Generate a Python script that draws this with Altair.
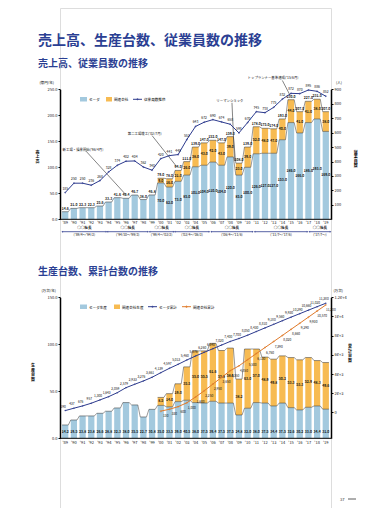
import altair as alt
import pandas as pd

# ---------------- data ----------------
years = ["'89", "'90", "'91", "'92", "'93", "'94", "'95", "'96", "'97", "'98", "'99",
         "'00", "'01", "'02", "'03", "'04", "'05", "'06", "'07", "'08", "'09",
         "'10", "'11", "'12", "'13", "'14", "'15", "'16", "'17", "'18", "'19"]

# sales (stacked): main company + group companies
sales_main = [14.6, 21.0, 22.3, 22.3, 25.6, 33.3, 41.6, 40.4, 46.7, 38.0, 46.8,
              70.0, 62.0, 73.0, 85.0, 101.0, 104.0, 110.0, 104.0, 120.0, 85.0,
              100.0, 126.0, 127.0, 127.0, 153.0, 186.0, 166.0, 186.0, 193.0, 169.0]
sales_group = [0, 0, 0, 0, 0, 0, 0, 0, 0, 0, 0,
               9.0, 16.0, 21.0, 26.0, 38.0, 43.0, 42.0, 43.0, 39.0, 23.0,
               39.0, 52.0, 48.0, 47.0, 40.0, 44.0, 41.0, 41.0, 38.0, 38.0]
employees = [185, 250, 250, 236, 268, 328, 374, 402, 404, 362, 340,
             420, 441, 448, 552, 643, 672, 690, 674, 658, 598,
             670, 745, 738, 775, 832, 872, 870, 895, 886, 852]

# production (stacked) and cumulative production
prod_main = [14.2, 19.5, 23.8, 23.8, 26.6, 28.8, 32.3, 38.0, 35.5, 22.7, 30.8,
             35.0, 33.5, 39.0, 40.5, 38.0, 37.5, 39.4, 37.5, 37.5, 24.8,
             32.0, 38.0, 37.5, 34.4, 37.5, 32.6, 30.2, 33.0, 34.4, 31.0]
prod_group = [0, 0, 0, 0, 0, 0, 0, 0, 0, 0, 0,
              8.5, 14.0, 19.0, 35.5, 55.0, 55.5, 61.6, 55.9, 58.5, 38.2,
              63.0, 57.0, 48.9, 49.8, 50.2, 53.3, 53.3, 52.9, 48.3, 49.6]
cum_main = [190, 437, 676, 957, 1300, 1643, 2059, 2579, 2933, 3276, 3661,
            4139, 4597, 5013, 5460, 5876, 6260, 6640, 7020, 7400, 7700,
            8050, 8430, 8810, 9180, 9560, 9930, 10290, 10660, 11020, 11380]
cum_group = [None] * 11 + [130, 330, 600, 1000, 1600, 2250, 2950, 3650, 4350, 4850,
                           5500, 6130, 6760, 7390, 8020, 8660, 9290, 9930, 10570, 11200]

era_names = ["○○社長", "○○社長", "○○社長", "○○社長", "○○社長", "○○社長", "○○社長"]
era_terms = ["('89/4〜'94/3)", "('94/10〜'99/3)", "('99/4〜'02/3)", "('02/4〜'06/3)",
             "('06/4〜'11/6)", "('11/7〜'17/6)", "('17/7〜)"]
era_from = [-0.35, 4.85, 9.7, 12.6, 16.8, 21.8, 28.1]
era_to = [4.75, 9.55, 12.5, 16.6, 21.6, 27.9, 30.55]

ann_text = ["新工場・操業開始('96/4月)", "第二工場竣工('02/7月)", "リーマンショック", "トップランナー基準達成('15/6月)"]
ann_tx = [-0.3, 7.2, 17.4, 21.0]
ann_ty = [134, 165, 228, 271]
ann_x1 = [2.4, 10.0, 19.2, 25.0]
ann_y1 = [131, 161, 224, 267]
ann_x2 = [7.0, 12.8, 19.5, 25.9]
ann_y2 = [47, 102, 112, 238]

# ---------------- style / layout ----------------
BLUE = "#a3c9de"
ORANGE = "#f7bb52"
NAVY = "#2d3b8e"
RUST = "#e07a2a"
TITLE = "#2b3f93"
FONT = "Noto Sans CJK JP"
W = 271          # plot width (page x 60..331)
H = 500          # whole drawing height (page y 8..508)
T_RANGE = [211.3, 81.3]    # top panel vertical extent
B_RANGE = [430.3, 289.3]   # bottom panel vertical extent
HALF = 0.36
x_scale = alt.Scale(domain=[-0.6, 30.6], nice=False, zero=False)


def X(field):
    return alt.X(field, type="quantitative", scale=x_scale, axis=None)


def deco(txt, x, y, size, color="black", weight="normal", align="left"):
    return alt.Chart(pd.DataFrame({"t": [txt]})).mark_text(
        fontSize=size, color=color, fontWeight=weight, align=align, baseline="alphabetic", font=FONT
    ).encode(x=alt.value(x), y=alt.value(y), text="t:N")


def vdeco(txt, x, y, size):
    return alt.Chart(pd.DataFrame({"t": ["\n".join(txt)]})).mark_text(
        fontSize=size, color="black", fontWeight="bold", align="center", baseline="top",
        lineBreak="\n", lineHeight=4.5, font=FONT
    ).encode(x=alt.value(x), y=alt.value(y), text="t:N")


def swatch(x1, x2, y1, y2, color):
    return alt.Chart(pd.DataFrame({"t": [0]})).mark_rect(color=color).encode(
        x=alt.value(x1), x2=alt.value(x2), y=alt.value(y1), y2=alt.value(y2))


def linekey(x1, x2, y, color, shape):
    r = alt.Chart(pd.DataFrame({"t": [0]})).mark_rule(color=color, strokeWidth=1).encode(
        x=alt.value(x1), x2=alt.value(x2), y=alt.value(y))
    p = alt.Chart(pd.DataFrame({"t": [0]})).mark_point(color=color, shape=shape, size=6, filled=True).encode(
        x=alt.value((x1 + x2) / 2), y=alt.value(y))
    return r + p


def yaxis(orient, values, fmt, title=None):
    kw = dict(orient=orient, values=values, format=fmt, labelFontSize=4, tickSize=2,
              domainWidth=1.5, domainColor="black", tickColor="black", grid=False,
              labelPadding=1, labelColor="#222", labelOverlap=False)
    if title:
        kw.update(title=list(title), titleAngle=0, titleFontSize=4, titleFontWeight="bold",
                  titlePadding=1, titleLineHeight=4.5)
    else:
        kw.update(title="")
    return alt.Axis(**kw)


def year_row(df, y):
    return alt.Chart(df).mark_text(fontSize=4, font=FONT, color="#222", baseline="middle").encode(
        x=X("i:Q"), y=alt.value(y), text="year:N")


def stacked_layers(df, yscale, yax, label_total, base_y):
    base = alt.Chart(df).transform_calculate(x0=f"datum.i - {HALF}", x1=f"datum.i + {HALF}",
                                             mid_main="datum.main / 2",
                                             mid_grp="(datum.main + datum.total) / 2")
    Y = lambda f: alt.Y(f, type="quantitative", scale=yscale, axis=yax)
    blue = base.mark_bar(color=BLUE).encode(x=X("x0:Q"), x2="x1:Q", y=Y("main"), y2=alt.datum(0))
    orange = base.transform_filter("datum.grp > 0").mark_bar(color=ORANGE).encode(
        x=X("x0:Q"), x2="x1:Q", y=Y("main"), y2="total:Q")
    conn1 = base.transform_fold(["x0", "x1"], as_=["k", "xx"]).mark_line(
        color="#333", strokeWidth=0.5).encode(x=X("xx:Q"), y=Y("main"), order="xx:Q")
    conn2 = base.transform_filter("datum.grp > 0").transform_fold(["x0", "x1"], as_=["k", "xx"]).mark_line(
        color="#333", strokeWidth=0.5).encode(x=X("xx:Q"), y=Y("total"), order="xx:Q")
    baseline = alt.Chart(pd.DataFrame({"t": [0]})).mark_rule(color="black", strokeWidth=1).encode(
        x=alt.value(0), x2=alt.value(W), y=alt.value(base_y))
    txt = dict(fontSize=3.4, color="#111", font=FONT, fontWeight="bold")
    layers = [blue, orange, conn1, conn2, baseline]
    if label_total:
        layers.append(base.mark_text(dy=-3, **txt).encode(
            x=X("i:Q"), y=Y("total"), text=alt.Text("total:Q", format=".1f")))
        layers.append(base.transform_filter("datum.grp > 0").mark_text(**txt).encode(
            x=X("i:Q"), y=Y("mid_main"), text=alt.Text("main:Q", format=".1f")))
    else:
        layers.append(base.mark_text(**txt).encode(
            x=X("i:Q"), y=alt.value(base_y - 6), text=alt.Text("main:Q", format=".1f")))
    layers.append(base.transform_filter("datum.grp > 0").mark_text(**txt).encode(
        x=X("i:Q"), y=Y("mid_grp"), text=alt.Text("grp:Q", format=".1f")))
    return layers


def era_layers(y0):
    era = pd.DataFrame({"name": era_names, "term": era_terms, "a": era_from, "b": era_to})
    eb = alt.Chart(era).transform_calculate(c="(datum.a + datum.b) / 2")
    rule = eb.mark_rule(color=NAVY, strokeWidth=0.8).encode(x=X("a:Q"), x2="b:Q", y=alt.value(y0 + 3.4))
    la = eb.mark_point(shape="triangle-left", size=4, filled=True, color=NAVY).encode(x=X("a:Q"), y=alt.value(y0 + 3.4))
    ra = eb.mark_point(shape="triangle-right", size=4, filled=True, color=NAVY).encode(x=X("b:Q"), y=alt.value(y0 + 3.4))
    nm = eb.mark_text(fontSize=3.6, fontWeight="bold", font=FONT, color="#111", baseline="middle").encode(
        x=X("c:Q"), y=alt.value(y0), text="name:N")
    tm = eb.mark_text(fontSize=3.4, font=FONT, color="#111", baseline="middle").encode(
        x=X("c:Q"), y=alt.value(y0 + 7), text="term:N")
    return [rule, la, ra, nm, tm]


# ---------------- top panel ----------------
top = pd.DataFrame({"i": list(range(31)), "year": years, "main": sales_main, "grp": sales_group,
                    "emp": employees})
top["total"] = top["main"] + top["grp"]

yl1 = alt.Scale(domain=[0, 250], range=T_RANGE, nice=False, zero=True)
yl1_axis = yaxis("left", [0, 50, 100, 150, 200, 250], ".1f", "売上高")
yr1 = alt.Scale(domain=[0, 900], range=T_RANGE, nice=False, zero=True)
yr1_axis = yaxis("right", list(range(100, 901, 100)), "d", "従業員数")

ann = pd.DataFrame({"t": ann_text, "tx": ann_tx, "ty": ann_ty, "x1": ann_x1, "y1": ann_y1,
                    "x2": ann_x2, "y2": ann_y2})
YL1 = lambda f: alt.Y(f, type="quantitative", scale=yl1, axis=yl1_axis)
ann_text_l = alt.Chart(ann).mark_text(fontSize=3.4, align="left", font=FONT, color="#111").encode(
    x=X("tx:Q"), y=YL1("ty"), text="t:N")
ann_rule = alt.Chart(ann).mark_rule(color="#333", strokeWidth=0.6).encode(
    x=X("x1:Q"), x2="x2:Q", y=YL1("y1"), y2="y2:Q")

top_left = alt.layer(
    *stacked_layers(top, yl1, yl1_axis, True, T_RANGE[0]),
    ann_rule, ann_text_l,
    year_row(top, T_RANGE[0] + 4),
    *era_layers(T_RANGE[0] + 9),
    deco("売上高、生産台数、従業員数の推移", -22, 37, 14, TITLE, "bold"),
    deco("売上高、従業員数の推移", -22, 58.5, 10, TITLE, "bold"),
    deco("(億円/年)", -6, 76, 3.6, align="right"),
    deco("(人)", 282, 76, 3.6, align="right"),
    swatch(20, 27, 89, 93.5, BLUE), deco("セーダ", 29, 93, 3.6),
    swatch(46, 52, 89, 93.5, ORANGE), deco("関連会社", 54, 93, 3.6),
    linekey(73, 82, 91.3, NAVY, "diamond"), deco("従業員数推移", 84, 93, 3.6),
)

YR1 = lambda f: alt.Y(f, type="quantitative", scale=yr1, axis=yr1_axis)
eb1 = alt.Chart(top)
top_right = alt.layer(
    eb1.mark_line(color=NAVY, strokeWidth=1).encode(x=X("i:Q"), y=YR1("emp")),
    eb1.mark_point(color=NAVY, shape="diamond", size=5, filled=True).encode(x=X("i:Q"), y=YR1("emp")),
    eb1.mark_text(fontSize=3.4, dy=-4, font=FONT, color="#111").encode(
        x=X("i:Q"), y=YR1("emp"), text="emp:Q"),
)

# ---------------- bottom panel ----------------
bot = pd.DataFrame({"i": list(range(31)), "year": years, "main": prod_main, "grp": prod_group,
                    "cm": cum_main, "cg": cum_group})
bot["total"] = bot["main"] + bot["grp"]

yl2 = alt.Scale(domain=[0, 150], range=B_RANGE, nice=False, zero=True)
yl2_axis = yaxis("left", [0, 50, 100, 150], ".1f", "生産台数")
yr2 = alt.Scale(domain=[-2700, 12000], range=B_RANGE, nice=False, zero=False)
yr2_axis = yaxis("right", list(range(0, 12001, 2000)), ",")

bot_left = alt.layer(
    *stacked_layers(bot, yl2, yl2_axis, False, B_RANGE[0]),
    year_row(bot, B_RANGE[0] + 4.5),
    deco("生産台数、累計台数の推移", -22, 267, 10, TITLE, "bold"),
    deco("(万台/年)", -4, 284, 3.6, align="right"),
    deco("(万台)", 283, 284, 3.6, align="right"),
    vdeco("累計台数", 290, 337, 4),
    swatch(20, 27, 296.5, 301, BLUE), deco("セーダ生産", 29, 300.5, 3.6),
    swatch(54, 60, 296.5, 301, ORANGE), deco("関連会社生産", 62, 300.5, 3.6),
    linekey(88, 97, 298.7, NAVY, "diamond"), deco("セーダ累計", 99, 300.5, 3.6),
    linekey(122, 131, 298.7, RUST, "cross"), deco("関連会社累計", 133, 300.5, 3.6),
    deco("37", 280, 492.5, 4.2, "#333"),
    alt.Chart(pd.DataFrame({"t": [0]})).mark_rule(color="#333", strokeWidth=0.8).encode(
        x=alt.value(288), x2=alt.value(296), y=alt.value(491)),
)

YR2 = lambda f: alt.Y(f, type="quantitative", scale=yr2, axis=yr2_axis)
cb = alt.Chart(bot)
cg = cb.transform_filter("datum.cg != null")
bot_right = alt.layer(
    cb.mark_line(color=NAVY, strokeWidth=1).encode(x=X("i:Q"), y=YR2("cm")),
    cb.mark_point(color=NAVY, shape="diamond", size=4, filled=True).encode(x=X("i:Q"), y=YR2("cm")),
    cb.mark_text(fontSize=3.2, dy=-4, dx=-2, font=FONT, color="#111").encode(
        x=X("i:Q"), y=YR2("cm"), text=alt.Text("cm:Q", format=",")),
    cg.mark_line(color=RUST, strokeWidth=1).encode(x=X("i:Q"), y=YR2("cg")),
    cg.mark_point(color=RUST, shape="cross", size=4, filled=True).encode(x=X("i:Q"), y=YR2("cg")),
    cg.mark_text(fontSize=3.2, dy=5, dx=5, font=FONT, color="#111").encode(
        x=X("i:Q"), y=YR2("cg"), text=alt.Text("cg:Q", format=",")),
)

chart = alt.layer(top_left, top_right, bot_left, bot_right).resolve_scale(y="independent").properties(
    width=W, height=H,
    autosize=alt.AutoSizeParams(type="none"),
    padding={"left": 52, "top": 0, "right": 27, "bottom": 0},
    background="white",
).configure_view(strokeOpacity=0).configure(font=FONT)

chart.save("out.html", embed_options={"renderer": "svg", "actions": False})
